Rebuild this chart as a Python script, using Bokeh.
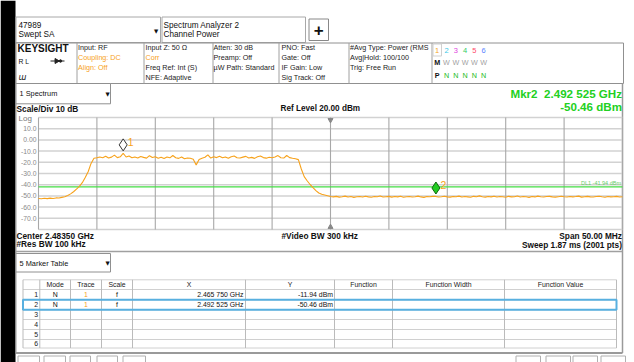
import numpy as np
from bokeh.plotting import figure
from bokeh.models import Range1d
from bokeh.core.properties import value
from bokeh.embed import file_html
from bokeh.resources import INLINE

# ---------------- data ----------------
center_mhz = 2483.5
span_mhz = 50.0
ref_level_dbm = 20.0
scale_db_per_div = 10.0
n_div = 10
sweep_pts = 2001
rbw_khz = 100
vbw_khz = 300
sweep_ms = 1.87

# trace samples every 0.25 MHz from 2458.5 to 2508.5 MHz
trace_dbm = [
    # left floor + skirt
    -52.3, -52.6, -52.1, -52.4, -52.0, -52.3, -51.8, -51.9, -51.3, -50.8,
    -49.6, -48.2, -46.3, -44.0, -41.5, -38.2, -33.5, -28.4, -21.0, -16.4,
    # channel top
    -16.0, -15.2, -15.9, -14.6, -16.2, -15.4, -13.6, -15.8, -15.1, -11.94,
    -15.3, -14.4, -15.9, -15.2, -16.1, -14.8, -15.6, -16.3, -14.1, -15.7,
    -15.0, -16.4, -15.5, -16.6, -15.3, -16.0, -13.9, -15.9, -16.5, -15.2,
    -16.8, -16.1, -16.4, -17.2, -22.3, -17.4, -16.3, -15.5, -13.4, -16.2,
    -15.1, -15.8, -14.6, -16.0, -15.3, -16.4, -15.0, -14.3, -15.9, -16.2,
    -15.4, -14.7, -16.1, -15.6, -16.5, -15.1, -14.4, -15.8, -16.3, -15.5,
    -16.0, -15.2, -14.0, -15.9, -16.2, -13.9, -15.8, -16.4, -16.9, -17.6,
    # right skirt
    -26.0, -32.8, -36.5, -39.8, -42.6, -45.3, -47.4, -48.6, -49.2, -49.9, -50.6,
    # right floor
    -50.9, -50.4, -51.1, -50.7, -50.2, -51.0, -50.6, -51.3, -50.8, -50.5,
    -51.0, -50.3, -50.9, -51.2, -50.6, -50.8, -50.1, -51.0, -50.7, -50.4,
    -51.1, -50.6, -50.9, -50.3, -51.2, -50.8, -50.5, -51.0, -50.7, -50.2,
    -50.9, -51.3, -50.6, -50.8, -50.4, -50.46, -51.0, -50.7, -50.3, -50.9,
    -51.1, -50.5, -50.8, -50.2, -51.0, -50.6, -50.9, -51.2, -50.4, -50.7,
    -50.0, -50.8, -51.1, -50.5, -50.9, -50.3, -51.0, -50.6, -50.8, -51.2,
    -50.4, -50.9, -50.7, -50.1, -51.0, -50.6, -50.8, -51.3, -50.5, -50.9,
    -50.2, -50.8, -51.0, -50.6, -50.4, -50.9, -51.1, -50.7, -50.3, -50.8,
    -51.0, -50.5, -50.9, -50.6, -50.2, -51.1, -50.7, -50.4, -50.9, -51.0,
    -50.6, -50.3, -50.8, -51.2, -50.5, -50.9, -50.7, -50.4, -51.0, -50.8,
]
freq_mhz = np.linspace(center_mhz - span_mhz / 2, center_mhz + span_mhz / 2, len(trace_dbm))

freq_ticks = [2458.5, 2463.5, 2468.5, 2473.5, 2478.5, 2483.5, 2488.5, 2493.5, 2498.5, 2503.5, 2508.5]
db_ticks = [20, 10, 0, -10, -20, -30, -40, -50, -60, -70, -80]
db_label_vals = [10, 0, -10, -20, -30, -40, -50, -60, -70]
db_labels = ["10.0", "0.00", "-10.0", "-20.0", "-30.0", "-40.0", "-50.0", "-60.0", "-70.0"]

mk_ids = ["1", "2"]
mk_freq = [2465.75, 2492.525]
mk_dbm = [-11.94, -50.46]
dl_dbm = -41.94

info_cols = [
    [("Input: RF", "k"), ("Coupling: DC", "o"), ("Align: Off", "o")],
    [("Input Z: 50 \u03a9", "k"), ("Corr", "o"), ("Freq Ref: Int (S)", "k"), ("NFE: Adaptive", "k")],
    [("Atten: 30 dB", "k"), ("Preamp: Off", "k"), ("\u00b5W Path: Standard", "k")],
    [("PNO: Fast", "k"), ("Gate: Off", "k"), ("IF Gain: Low", "k"), ("Sig Track: Off", "k")],
    [("#Avg Type: Power (RMS", "k"), ("Avg|Hold: 100/100", "k"), ("Trig: Free Run", "k")],
]
trace_nums = ["1", "2", "3", "4", "5", "6"]
trace_colors = ["#f5a623", "#3cc8e8", "#e040e0", "#33cc66", "#ff4a6a", "#5a84ff"]
trace_modes = ["W", "W", "W", "W", "W"]
trace_dets = ["N", "N", "N", "N", "N"]

table_headers = ["", "Mode", "Trace", "Scale", "X", "Y", "Function", "Function Width", "Function Value"]
table_rows = ["1", "2", "3", "4", "5", "6"]
mk_modes = ["N", "N"]
mk_traces = ["1", "1"]
mk_scales = ["f", "f"]


def fmt_ghz(f):
    s = f"{f / 1000:.6f}"
    return s[:5] + " " + s[5:] + " GHz"


# ---------------- layout (page pixels) ----------------
W, H = 634, 362
CX0, CY0 = 0, 0
CX1, CY1 = CX0 + W, CY0 + H
GX0, GX1, GY0, GY1 = 38, 622, 117, 229

f_start = center_mhz - span_mhz / 2
f_stop = center_mhz + span_mhz / 2
db_bottom = ref_level_dbm - n_div * scale_db_per_div
mhz_px = span_mhz / (GX1 - GX0)
db_px = (n_div * scale_db_per_div) / (GY1 - GY0)
mk_off = 7.5  # marker symbol drawn above its point

p = figure(width=W, height=H, x_range=Range1d(CX0, CX1), y_range=Range1d(CY1, CY0),
           x_axis_location=None, y_axis_location=None, toolbar_location=None,
           output_backend="svg", min_border=0)
p.outline_line_color = None
p.background_fill_color = "white"
p.border_fill_color = "white"
p.grid.grid_line_color = None

y_lo = db_bottom - (CY1 - GY1) * db_px
y_hi = ref_level_dbm + (GY0 - CY0) * db_px
p.extra_x_ranges = {"f": Range1d(f_start - (GX0 - CX0) * mhz_px, f_stop + (CX1 - GX1) * mhz_px)}
p.extra_y_ranges = {"db": Range1d(y_lo, y_hi), "mk": Range1d(y_lo - mk_off, y_hi - mk_off)}

FONT = "Liberation Sans"
ORANGE = "#f7a21b"
GREEN = "#22d022"


def T(x, y, s, size=7.2, color="#111111", align="left", bold=False, italic=False,
      xr="default", yr="default", font=FONT, yoff=0, xoff=0, base="middle"):
    style = "bold" if bold else ("italic" if italic else "normal")
    p.text(x=[x], y=[y], text=[s], text_font=value(font), text_font_size=f"{size}px",
           text_color=color, text_align=align, text_baseline=base, text_font_style=style,
           x_range_name=xr, y_range_name=yr, y_offset=yoff, x_offset=xoff)


def box(l, r, t, b, fill="white", line="#a0a0a0", lw=1.0):
    p.quad(left=[l], right=[r], top=[t], bottom=[b], fill_color=fill, line_color=line, line_width=lw)


def hl(x0, x1, y, color="#a0a0a0", lw=1.0):
    p.segment(x0=[x0], y0=[y], x1=[x1], y1=[y], line_color=color, line_width=lw)


def vl(x, y0, y1, color="#a0a0a0", lw=1.0):
    p.segment(x0=[x], y0=[y0], x1=[x], y1=[y1], line_color=color, line_width=lw)


# black screen edge
box(CX0, 15, CY0, CY1, fill="black", line=None)

# ---- tabs ----
box(15.5, 160, 16.5, 42, line="#a8a8a8")
T(18, 24.3, "47989", 8.2)
T(18, 34.3, "Swept SA", 8.2)
T(155.5, 30, "\u25bc", 5.5, font="DejaVu Sans", align="center")
box(161.5, 305, 16.5, 42, line="#a8a8a8")
T(163, 25, "Spectrum Analyzer 2", 8.2)
T(163, 34.3, "Channel Power", 8.2)
box(308.5, 328, 18.5, 40, line="#888888")
T(318.3, 29.5, "+", 17, bold=True, align="center")

# ---- info bar ----
box(15.5, 623, 42.5, 83, line="#909090")
for xd in [76.5, 143.5, 212.5, 278.5, 348.5, 431.5]:
    vl(xd, 42.5, 83, "#a0a0a0")
T(17, 47.5, "KEYSIGHT", 10, bold=True)
T(18, 60.5, "R L", 6.8)
hl(50, 64, 60.5, "#222222", 1)
p.scatter(x=[56], y=[60.5], marker="triangle", angle=-np.pi / 2, size=5, color="#222222")
p.scatter(x=[60], y=[60.5], marker="circle", size=2.5, color="#222222")
T(18, 76.5, "\u026f", 8, italic=True, font="DejaVu Sans")
col_x = [77.5, 145, 213, 281, 349.5]
row_y = [46.7, 57, 66.7, 76.7]
for cx, items in zip(col_x, info_cols):
    for (s, c), ry in zip(items, row_y):
        T(cx, ry, s, 7.2, color=(ORANGE if c == "o" else "#222222"))
tx0, tdx = 436.7, 9.3
box(432.5, 441, 43.5, 55.5, line="#d0d0d0")
for k, (s, c) in enumerate(zip(trace_nums, trace_colors)):
    T(tx0 + k * tdx, 49.5, s, 7.5, color=c, align="center")
T(tx0, 61.7, "M", 7.2, bold=True, align="center")
for k, s in enumerate(trace_modes):
    T(tx0 + (k + 1) * tdx, 61.7, s, 7.2, color="#a0a0a0", align="center")
T(tx0, 75, "P", 7.2, bold=True, align="center")
for k, s in enumerate(trace_dets):
    T(tx0 + (k + 1) * tdx, 75, s, 7.2, color="#22bb22", align="center")

# ---- panel frame ----
vl(622, 83, 352.5, "#9a9a9a", 1.5)
vl(15.5, 83, 352.5, "#9a9a9a", 1)
box(15.5, 110, 83, 103.3, line="#909090")
T(19, 93.3, "1 Spectrum", 7.4)
T(107, 93.3, "\u25bc", 5.5, font="DejaVu Sans", align="center")

# marker readout
T(621.5, 92.7, f"Mkr{mk_ids[1]}\u00a0\u00a0{fmt_ghz(mk_freq[1])}", 11.6, color=GREEN, bold=True, align="right")
T(621.5, 106, f"{mk_dbm[1]:.2f} dBm", 11.6, color=GREEN, bold=True, align="right")

T(16, 108.3, f"Scale/Div {scale_db_per_div:.0f} dB", 8.3, bold=True)
T(280, 108.3, f"Ref Level {ref_level_dbm:.2f} dBm", 8.2, bold=True)
T(18, 118, "Log", 8, color="#777777")

# ---- graticule ----
p.segment(x0=[f_start] * len(db_ticks), x1=[f_stop] * len(db_ticks), y0=db_ticks, y1=db_ticks,
          x_range_name="f", y_range_name="db", line_color="#d2d2d2", line_width=1.5)
p.segment(x0=freq_ticks, x1=freq_ticks, y0=[db_bottom] * len(freq_ticks),
          y1=[ref_level_dbm] * len(freq_ticks), x_range_name="f", y_range_name="db",
          line_color="#a8a8a8", line_width=1.1)
for v, s in zip(db_label_vals, db_labels):
    T(36, v, s, 6.8, color="#8a8a8a", align="right", yr="db")
p.scatter(x=[center_mhz], y=[GY0 + 2.5], x_range_name="f", marker="inverted_triangle",
          size=5, color="#888888")
p.scatter(x=[center_mhz], y=[GY1 - 2.5], x_range_name="f", marker="triangle",
          size=5, color="#888888")

# display line
p.segment(x0=[f_start], x1=[f_stop], y0=[dl_dbm], y1=[dl_dbm], x_range_name="f",
          y_range_name="db", line_color="#44dd44", line_width=1.4)
T(f_stop, dl_dbm, f"DL1 {dl_dbm:.2f} dBm", 5.5, color="#66cc66", align="right",
  xr="f", yr="db", yoff=-4, xoff=-1.5)

# trace
p.line(freq_mhz, trace_dbm, x_range_name="f", y_range_name="db", line_color=ORANGE,
       line_width=1.1)

# markers
p.scatter(x=[mk_freq[0]], y=[mk_dbm[0]], x_range_name="f", y_range_name="mk", marker="diamond",
          size=12, fill_color="white", line_color="#333333", line_width=1)
p.scatter(x=[mk_freq[1]], y=[mk_dbm[1]], x_range_name="f", y_range_name="mk", marker="diamond",
          size=12, fill_color="#22cc22", line_color="#116611", line_width=1)
for s, f, v in zip(mk_ids, mk_freq, mk_dbm):
    T(f, v, s, 10.5, color=ORANGE, xr="f", yr="db", xoff=4.5, yoff=-11.5)

# ---- bottom annotations ----
T(16, 235.3, f"Center {center_mhz / 1000:.5f} GHz", 8.3, bold=True)
T(16, 243.5, f"#Res BW {rbw_khz} kHz", 8.3, bold=True)
T(281, 235.3, f"#Video BW {vbw_khz} kHz", 8.3, bold=True)
T(621.5, 235.3, f"Span {span_mhz:.2f} MHz", 8.3, bold=True, align="right")
T(621.5, 244, f"Sweep {sweep_ms:.2f} ms ({sweep_pts} pts)", 8.3, bold=True, align="right")
hl(15.5, 622, 251, "#a0a0a0", 1.5)

# ---- marker table ----
box(15.5, 110, 253, 271.5, line="#909090")
T(19, 262.5, "5 Marker Table", 7.4)
T(107, 262.5, "\u25bc", 5.5, font="DejaVu Sans", align="center")
hl(15.5, 622, 352.5, "#9a9a9a", 2)

col_edges = [22.5, 39.3, 70, 101, 132, 245, 334, 392, 504, 616]
row_edges = [279.3, 289, 299.3, 309.3, 319, 329, 339, 347.5]
for ye in row_edges:
    hl(col_edges[0], col_edges[-1], ye, "#d0d0d0", 1)
for xe in col_edges:
    vl(xe, row_edges[0], row_edges[-1], "#bbbbbb", 1)
for k, h in enumerate(table_headers):
    if h:
        T((col_edges[k] + col_edges[k + 1]) / 2, (row_edges[0] + row_edges[1]) / 2, h, 6.9,
          color="#222222", align="center")
for r, s in enumerate(table_rows):
    yc = (row_edges[r + 1] + row_edges[r + 2]) / 2
    T(37.5, yc, s, 6.9, color="#222222", align="right")
for r in range(len(mk_ids)):
    yc = (row_edges[r + 1] + row_edges[r + 2]) / 2
    T((col_edges[1] + col_edges[2]) / 2, yc, mk_modes[r], 6.9, align="center")
    T((col_edges[2] + col_edges[3]) / 2, yc, mk_traces[r], 6.9, color=ORANGE, align="center")
    T((col_edges[3] + col_edges[4]) / 2, yc, mk_scales[r], 6.9, align="center")
    T(col_edges[5] - 2, yc, fmt_ghz(mk_freq[r]), 6.9, align="right")
    T(col_edges[6] - 1.5, yc, f"{mk_dbm[r]:.2f} dBm", 6.9, align="right")
# selected row highlight
box(col_edges[0], col_edges[-1], row_edges[2], row_edges[3], fill=None, line="#58b0e0", lw=2)

# ---- bottom tool strip (cut off by the window edge) ----
for l, r in [(17, 39), (43, 65), (69, 90), (96, 117), (122, 145), (515, 540), (545, 570), (572, 597), (600, 625)]:
    box(l + 0.5, r, 355.5, 366, line="#b0b0b0")

open("out.html", "w").write(file_html(p, INLINE))
